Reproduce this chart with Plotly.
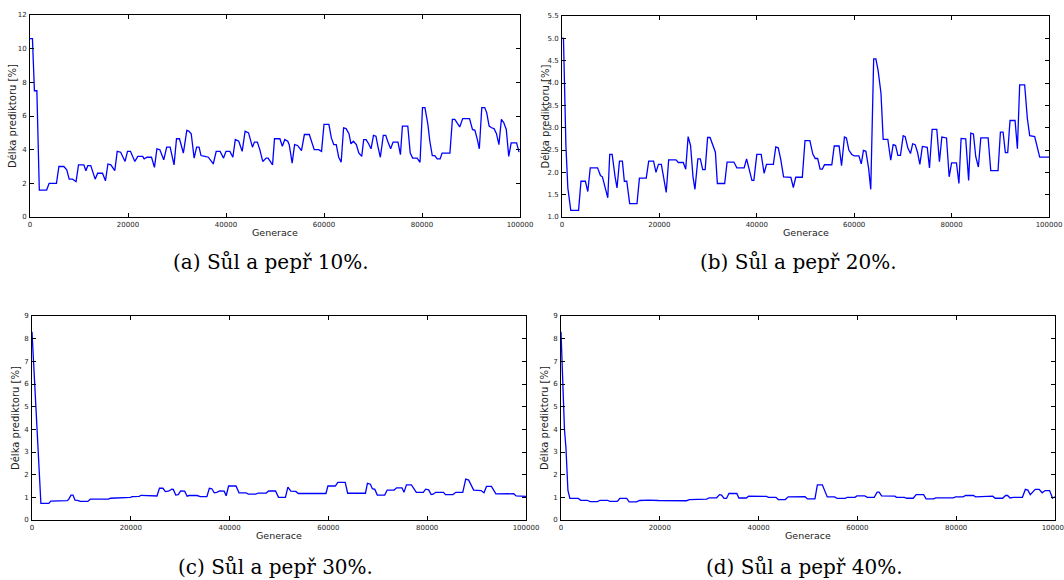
import plotly.graph_objects as go

W, H = 1064, 580

# ---------------- data ----------------
gen_a = [0, 500, 900, 1400, 1900, 3400, 3900, 5400, 5900, 6900, 7500, 8000, 8700, 9400, 9900,
         11000, 11400, 11800, 12400, 13300, 13800, 14800, 15400, 15900, 16500, 17300, 17800,
         18500, 19400, 19900, 20500, 21400, 22000, 23000, 23300, 23900, 24800, 25400, 25900,
         26500, 27300, 27900, 28600, 29400, 29900, 30500, 31300, 32000, 32400, 32900, 33500,
         34000, 34500, 34900, 35700, 36400, 37400, 38000, 38800, 39500, 40000, 40800, 41400,
         41900, 42600, 43300, 43900, 44600, 45400, 45800, 46400, 46900, 47500, 48200, 48600,
         49500, 49900, 51000, 51500, 52000, 52600, 52900, 53500, 54000, 54600, 55400, 56000,
         57000, 58000, 58900, 59500, 60000, 61000, 61500, 62000, 62500, 63000, 63500, 64000,
         64500, 65100, 65500, 66000, 66600, 67100, 67700, 68100, 68600, 69100, 69600, 70100,
         70600, 71000, 71500, 72100, 72600, 73000, 73600, 74100, 75100, 75600, 76000, 77100,
         77600, 78100, 79000, 79600, 80100, 80600, 81200, 81600, 82100, 82600, 83100, 83700,
         84100, 85700, 86200, 86700, 87700, 88300, 89700, 90300, 90800, 91300, 91700, 92200,
         92800, 93200, 93700, 94200, 94700, 95200, 95700, 96200, 96700, 97200, 97700, 98200,
         99300, 99800]
len_a = [10.6, 10.6, 7.5, 7.5, 1.6, 1.6, 2.0, 2.0, 3.0, 3.0, 2.8, 2.25, 2.25, 2.1, 3.1,
         3.1, 2.75, 3.05, 3.05, 2.25, 2.6, 2.6, 2.15, 3.15, 3.1, 2.75, 3.9,
         3.85, 3.3, 3.9, 3.9, 3.3, 3.6, 3.6, 3.45, 3.55, 3.55, 2.95, 4.05,
         4.0, 3.4, 4.15, 4.15, 3.1, 4.65, 4.65, 3.8, 5.15, 5.1, 4.95, 3.5,
         4.15, 4.15, 3.65, 3.6, 3.55, 3.15, 3.9, 3.9, 3.5, 3.9, 3.9, 3.55,
         4.6, 4.5, 3.9, 5.1, 5.0, 4.15, 4.45, 4.45, 4.0, 3.3, 3.5, 3.5,
         3.1, 4.65, 4.65, 4.2, 4.6, 4.5, 4.3, 3.2, 4.3, 4.25, 3.95, 4.9,
         4.9, 4.0, 4.0, 3.9, 5.5, 5.5, 4.7, 4.3, 4.3, 3.55, 3.25, 5.3,
         5.25, 4.95, 4.35, 4.5, 4.3, 3.8, 3.6, 4.6, 4.6, 4.35, 4.05, 4.85,
         4.8, 4.2, 3.55, 4.85, 4.85, 4.5, 4.05, 4.45, 4.45, 3.7, 5.4, 5.4,
         3.8, 3.5, 3.5, 3.25, 6.5, 6.5, 5.5, 4.5, 3.65, 3.65, 3.45, 3.45,
         3.8, 3.8, 5.8, 5.8, 5.35, 5.85, 5.85, 5.2, 5.15, 4.6, 4.05, 6.5,
         6.5, 6.2, 5.4, 5.3, 5.25, 4.95, 4.3, 5.8, 5.6, 5.2, 3.6, 4.4,
         4.4, 3.85]

gen_b = [0, 300, 800, 1200, 1800, 3400, 3900, 4800, 5300, 5800, 7300, 7900, 8300, 9400, 9800,
         10300, 10900, 11300, 11800, 12400, 12800, 13300, 13900, 15400, 15900, 17300, 17800,
         18800, 19300, 19800, 20400, 20800, 21400, 21900, 23400, 23900, 24900, 25400, 25900,
         26400, 26900, 27300, 27900, 28400, 28900, 29400, 29900, 30400, 30900, 31500, 31900,
         33400, 33900, 35300, 35900, 37400, 37900, 38400, 39000, 39400, 40000, 40900, 41500,
         42000, 43400, 43900, 44400, 44900, 45500, 47000, 47500, 48000, 49350, 49900, 50900,
         51500, 52000, 52500, 53000, 53450, 53900, 55400, 55900, 56900, 57400, 58000, 58400,
         58900, 59500, 60000, 60970, 61450, 61900, 62400, 62950, 63400, 64000, 64450, 64900,
         65500, 65950, 66900, 67500, 68000, 68500, 68970, 69500, 70060, 70470, 71000, 71560,
         72000, 72520, 73000, 73480, 74000, 75000, 75460, 76000, 76960, 77500, 78000, 78950,
         79500, 80000, 81000, 81500, 81950, 82900, 83500, 83940, 84480, 84960, 85500, 86000,
         87500, 88040, 89540, 90020, 90570, 91040, 91520, 92000, 93030, 93510, 93980, 95000,
         95560, 96040, 97060, 97540, 98090, 100000]
len_b = [5.0, 5.0, 2.6, 1.65, 1.15, 1.15, 1.8, 1.8, 1.57, 2.1, 2.1, 1.93, 1.9, 1.43, 2.4,
         2.4, 1.9, 1.65, 2.25, 2.25, 1.8, 1.8, 1.3, 1.3, 1.87, 1.87, 2.25,
         2.25, 2.0, 2.18, 2.18, 1.95, 1.55, 2.28, 2.28, 2.22, 2.22, 2.07, 2.8,
         2.6, 1.9, 1.62, 2.3, 2.3, 2.06, 2.06, 2.78, 2.78, 2.62, 2.45, 1.75,
         1.75, 2.23, 2.23, 2.1, 2.1, 2.3, 2.08, 1.82, 1.82, 2.4, 2.4, 1.98,
         2.18, 2.18, 2.57, 2.55, 2.3, 1.9, 1.89, 1.66, 1.89, 1.89, 2.71, 2.71,
         2.41, 2.31, 2.31, 2.07, 2.07, 2.17, 2.17, 2.59, 2.59, 2.15, 2.79, 2.77,
         2.5, 2.4, 2.37, 2.37, 2.19, 2.49, 2.47, 2.1, 1.62, 4.54, 4.54, 4.29,
         3.77, 2.74, 2.74, 2.27, 2.62, 2.6, 2.38, 2.38, 2.82, 2.8, 2.55, 2.42,
         2.64, 2.62, 2.45, 2.18, 2.58, 2.56, 2.1, 2.96, 2.96, 2.24, 2.79, 2.77,
         1.9, 2.21, 2.21, 1.75, 2.76, 2.75, 1.82, 2.88, 2.86, 2.35, 2.12, 2.77,
         2.77, 2.04, 2.04, 2.9, 2.9, 2.44, 2.44, 3.16, 3.16, 2.53, 3.96, 3.96,
         3.2, 2.82, 2.8, 2.6, 2.34, 2.34]

gen_c = [0, 1800, 3400, 3800, 7100, 7400, 7900, 8300, 8700, 9200, 9800, 11300, 11800, 13800,
         15500, 15900, 17500, 19900, 20300, 21700, 22100, 24000, 24300, 25300, 25800, 26500,
         27000, 27600, 28300, 28600, 29100, 29600, 30100, 30900, 31400, 31800, 33400, 34100,
         35400, 35900, 36400, 36900, 37400, 38000, 38900, 39300, 39800, 41300, 41900, 43300,
         43800, 45300, 45800, 47400, 47900, 49300, 49900, 51300, 51800, 52400, 53400, 53900,
         55700, 59500, 59900, 61400, 61900, 63400, 63900, 67500, 67900, 68500, 68900, 69400,
         69900, 71400, 71900, 73300, 73800, 74900, 75300, 75800, 76800, 77800, 79200, 79700,
         80300, 80800, 81200, 81700, 83300, 83700, 85200, 85800, 87200, 87800, 88400, 89400,
         90900, 91500, 92000, 93000, 93900, 95400, 97500, 98000, 99500, 100000]
len_c = [8.3, 0.73, 0.73, 0.83, 0.85, 0.9, 1.1, 1.1, 0.88, 0.87, 0.82, 0.82, 0.92, 0.92,
         0.92, 0.96, 0.97, 1.0, 1.03, 1.04, 1.09, 1.09, 1.06, 1.06, 1.4, 1.4,
         1.25, 1.27, 1.36, 1.35, 1.1, 1.12, 1.28, 1.27, 1.05, 1.08, 1.08, 1.03,
         1.03, 1.4, 1.38, 1.2, 1.22, 1.28, 1.27, 1.07, 1.5, 1.5, 1.2, 1.2,
         1.14, 1.14, 1.19, 1.19, 1.28, 1.28, 1.0, 1.0, 1.45, 1.27, 1.26, 1.17,
         1.17, 1.17, 1.5, 1.5, 1.66, 1.66, 1.18, 1.18, 1.62, 1.58, 1.38, 1.35,
         1.1, 1.1, 1.32, 1.32, 1.42, 1.42, 1.22, 1.55, 1.55, 1.22, 1.22, 1.36,
         1.33, 1.12, 1.14, 1.22, 1.22, 1.12, 1.12, 1.22, 1.22, 1.8, 1.76, 1.32,
         1.3, 1.2, 1.48, 1.48, 1.15, 1.15, 1.16, 1.06, 1.04, 1.04]

gen_d = [0, 300, 700, 1000, 1400, 1800, 3500, 4000, 5300, 5900, 7400, 7900, 9400, 9900, 11400,
         11900, 13300, 13800, 15300, 15900, 17700, 19700, 22100, 23400, 25400, 26000, 27500,
         28000, 29500, 30000, 31500, 32100, 32500, 33000, 33500, 34000, 35600, 36000, 37500,
         38000, 41000, 41600, 42000, 43500, 44000, 45400, 46000, 49400, 49900, 51400, 51900,
         52900, 53900, 55400, 55900, 57500, 57900, 59500, 59900, 61500, 62000, 63400, 64000,
         64400, 64900, 67600, 67900, 69500, 70000, 71300, 71900, 73400, 73900, 75400, 75900,
         79400, 79900, 81400, 81900, 83500, 83900, 85500, 86000, 87400, 87900, 89400, 90000,
         90400, 90900, 91600, 93400, 94000, 94500, 95000, 96000, 96800, 97400, 98000, 98900,
         99500, 100000]
len_d = [8.3, 6.0, 4.0, 3.2, 1.3, 0.95, 0.95, 0.87, 0.87, 0.81, 0.81, 0.87, 0.87, 0.82, 0.82,
         0.95, 0.95, 0.8, 0.8, 0.86, 0.88, 0.86, 0.86, 0.85, 0.85, 0.9, 0.9,
         0.92, 0.92, 0.98, 0.98, 1.12, 1.1, 0.95, 0.95, 1.17, 1.17, 0.97, 0.97,
         1.05, 1.05, 1.04, 1.0, 1.0, 0.9, 0.9, 1.02, 1.03, 0.93, 0.93, 1.55,
         1.55, 1.02, 1.02, 0.95, 0.95, 1.0, 1.0, 1.06, 1.06, 1.0, 1.0, 1.23,
         1.23, 1.06, 1.05, 1.0, 1.0, 0.96, 0.96, 1.12, 1.12, 0.93, 0.93, 0.98,
         0.98, 1.02, 1.02, 1.08, 1.08, 1.02, 1.02, 1.05, 1.05, 0.96, 0.96, 1.08,
         1.08, 0.97, 1.0, 1.0, 1.35, 1.32, 1.12, 1.35, 1.35, 1.2, 1.3, 1.3,
         0.97, 1.02]

x_ticks = [0, 20000, 40000, 60000, 80000, 100000]
y_ticks_a = [0, 2, 4, 6, 8, 10, 12]
y_ticks_b = [1.0, 1.5, 2.0, 2.5, 3.0, 3.5, 4.0, 4.5, 5.0, 5.5]
y_ticks_cd = [0, 1, 2, 3, 4, 5, 6, 7, 8, 9]
captions = ["(a) Sůl a pepř 10%.", "(b) Sůl a pepř 20%.", "(c) Sůl a pepř 30%.", "(d) Sůl a pepř 40%."]
x_title = "Generace"
y_title = "Délka prediktoru [%]"

# ---------------- layout (pixel boxes) ----------------
boxes = [  # left, right, top, bottom in px
    (30, 520, 15, 217),
    (562, 1049, 16, 217),
    (32, 526, 316, 520),
    (561, 1055, 316, 520),
]
yranges = [(0, 12), (1.0, 5.5), (0, 9), (0, 9)]
yticks = [y_ticks_a, y_ticks_b, y_ticks_cd, y_ticks_cd]
ytfmt = ["d", ".1f", "d", "d"]
series = [(gen_a, len_a), (gen_b, len_b), (gen_c, len_c), (gen_d, len_d)]

fig = go.Figure()
layout = dict(
    width=W, height=H, margin=dict(l=0, r=0, t=0, b=0, autoexpand=False),
    paper_bgcolor="white", plot_bgcolor="white", showlegend=False,
)
tick_font = dict(family="DejaVu Sans", size=7, color="#222222")
annotations = []
for i, ((l, r, t, b), (gx, gy)) in enumerate(zip(boxes, series)):
    n = "" if i == 0 else str(i + 1)
    fig.add_trace(go.Scatter(x=gx, y=gy, mode="lines",
                             line=dict(color="#0000ff", width=1.3),
                             xaxis="x" + n, yaxis="y" + n, hoverinfo="skip",
                             cliponaxis=False))
    common = dict(showline=True, linecolor="black", linewidth=1, mirror="ticks",
                  ticks="inside", ticklen=4, tickcolor="black", showgrid=False,
                  zeroline=False, tickfont=tick_font, automargin=False,
                  ticklabeloverflow="allow")
    layout["xaxis" + n] = dict(domain=[l / W, r / W], anchor="y" + n, range=[0, 100000],
                               tickvals=x_ticks, ticktext=[str(v) for v in x_ticks],
                               ticklabelstandoff=1, **common)
    layout["yaxis" + n] = dict(domain=[1 - b / H, 1 - t / H], anchor="x" + n,
                               range=list(yranges[i]), tickvals=yticks[i],
                               tickformat=ytfmt[i], ticklabelstandoff=1, **common)
    cx = (l + r) / 2
    cy = (t + b) / 2
    annotations.append(dict(text=y_title, x=(l - 17) / W, y=1 - cy / H, xref="paper", yref="paper",
                            textangle=-90, showarrow=False, xanchor="center", yanchor="middle",
                            font=dict(family="DejaVu Sans", size=10, color="#222222")))
    annotations.append(dict(text=x_title, x=cx / W, y=1 - (b + 15) / H, xref="paper", yref="paper",
                            showarrow=False, xanchor="center", yanchor="middle",
                            font=dict(family="DejaVu Sans", size=9.5, color="#222222")))

cap_pos = [(271, 262), (798, 262), (275, 567), (804, 567)]
for txt, (cx, cy) in zip(captions, cap_pos):
    annotations.append(dict(text=txt, x=cx / W, y=1 - cy / H, xref="paper", yref="paper",
                            showarrow=False, xanchor="center", yanchor="middle",
                            font=dict(family="DejaVu Serif", size=20, color="black")))
layout["annotations"] = annotations
fig.update_layout(**layout)
fig.write_html("out.html", config={"displayModeBar": False},
               post_script="document.body.style.margin='0';document.body.style.overflow='hidden';")
